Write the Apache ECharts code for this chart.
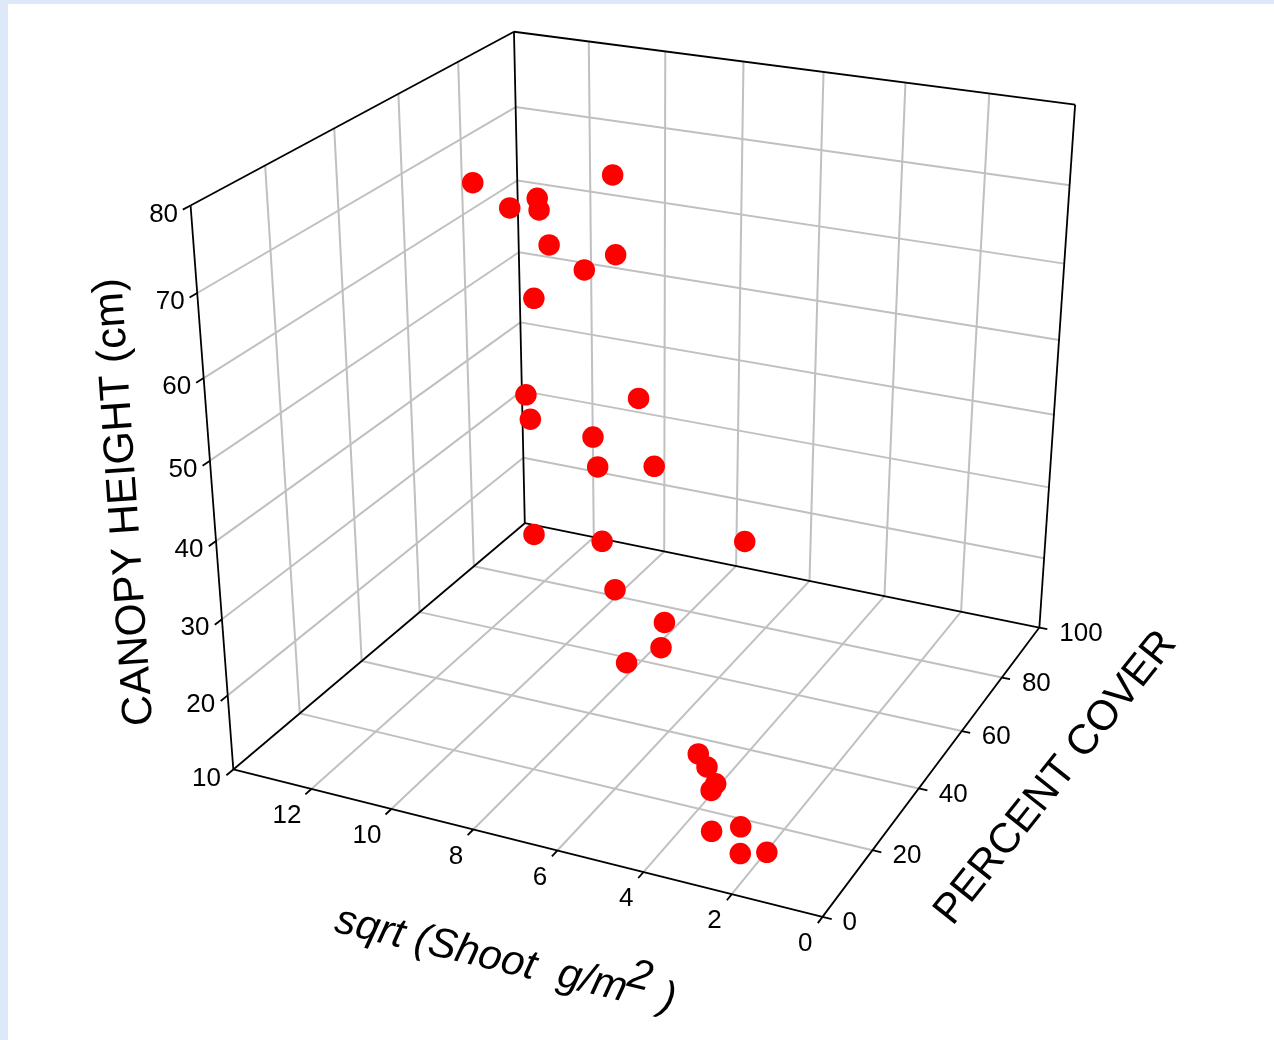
<!DOCTYPE html><html><head><meta charset="utf-8">
<style>html,body{margin:0;padding:0;background:#dde9f9;overflow:hidden}
#sheet{position:absolute;left:8px;top:4px;width:1266px;height:1036px;background:#fff}
#chart{position:absolute;left:0;top:0;width:1274px;height:1040px}</style>
<script src="https://cdn.jsdelivr.net/npm/echarts@6/dist/echarts.min.js"></script></head><body>
<div id="sheet"></div><div id="chart"></div>
<script>
// ----- data -----
var shootSqrt=[11.4,8.0,9.82,9.78,10.5,9.55,7.94,8.7,9.95,10.2,10.1,7.4,8.53,8.42,7.02,8.6,6.95,3.62,6.65,5.47,5.55,6.38,3.4,3.2,3.0,3.1,3.08,2.42,2.42,1.82];
var percentCover=[50,50,50,50,50,50,50,50,50,50,50,50,50,50,50,30,30,30,30,30,30,30,10,10,10,10,10,10,10,10];
var canopyHeight=[73.1,76.6,72.4,71.0,70.7,66.9,67.0,64.5,59.9,47.3,44.2,49.5,43.4,39.6,41.1,36.9,37.8,41.4,31.9,29.0,25.6,22.6,22.0,20.6,18.7,17.7,12.4,13.9,10.4,11.4];
var shootTicks=[0,2,4,6,8,10,12];
var coverTicks=[0,20,40,60,80,100];
var heightTicks=[10,20,30,40,50,60,70,80];
var shootRange=[0,14], coverRange=[0,100], heightRange=[10,80];
var titleHeight='CANOPY HEIGHT (cm)', titleCover='PERCENT COVER', titleShoot='sqrt (Shoot  g/m', titleShootSup='2', titleShootEnd=')';

// ----- perspective projection of the 3D box onto the page -----
var P=[-0.56780,0.42148,-0.06595,0.82251,-0.07692,-0.16579,-0.63644,0.91686,0.09158,0.19688,-0.10115];
function project(x,c,h){
  var u=x/shootRange[1], v=c/coverRange[1], w=(h-heightRange[0])/(heightRange[1]-heightRange[0]);
  var W=P[8]*u+P[9]*v+P[10]*w+1;
  return [1000*(P[0]*u+P[1]*v+P[2]*w+P[3])/W, 1000*(P[4]*u+P[5]*v+P[6]*w+P[7])/W];
}
function seg(a,b){return {coords:[project(a[0],a[1],a[2]),project(b[0],b[1],b[2])]};}
var X=shootRange[1],C=coverRange[1],H0=heightRange[0],H1=heightRange[1];
var gridSegs=[], edgeSegs=[], textItems=[];
shootTicks.forEach(function(x){
  if(x>0){gridSegs.push(seg([x,0,H0],[x,C,H0]));gridSegs.push(seg([x,C,H0],[x,C,H1]));}
  edgeSegs.push(seg([x,0,H0],[x,-1.8,H0]));
  var p=project(x,0,H0);textItems.push({p:p,dx:-10,dy:27,align:'right',t:String(x)});
});
coverTicks.forEach(function(c){
  if(c>0&&c<C){gridSegs.push(seg([0,c,H0],[X,c,H0]));gridSegs.push(seg([X,c,H0],[X,c,H1]));}
  edgeSegs.push(seg([0,c,H0],[-0.2,c,H0]));
  var p=project(0,c,H0);textItems.push({p:p,dx:20,dy:6,align:'left',t:String(c)});
});
heightTicks.forEach(function(h){
  if(h>H0&&h<H1){gridSegs.push(seg([X,0,h],[X,C,h]));gridSegs.push(seg([X,C,h],[0,C,h]));}
  edgeSegs.push(seg([X,0,h],[X,-2,h]));
  var p=project(X,0,h);textItems.push({p:p,dx:-12.5,dy:9,align:'right',t:String(h)});
});
[[[0,0,H0],[X,0,H0]],[[0,0,H0],[0,C,H0]],[[X,0,H0],[X,C,H0]],[[0,C,H0],[X,C,H0]],
 [[X,0,H0],[X,0,H1]],[[X,C,H0],[X,C,H1]],[[0,C,H0],[0,C,H1]],[[X,0,H1],[X,C,H1]],[[X,C,H1],[0,C,H1]]
].forEach(function(e){edgeSegs.push(seg(e[0],e[1]));});

var titles=[
 {p:[125,502],r:94,t:titleHeight,f:'42.5px "Liberation Sans"'},
 {p:[1056,778],r:51.5,t:titleCover,f:'42px "Liberation Sans"'},
 {p:[481,955],r:-13.6,t:titleShoot,f:'italic 42px "Liberation Sans"'},
 {p:[640,977],r:-13.6,t:titleShootSup,f:'italic 42px "Liberation Sans"'},
 {p:[668,999],r:-13.6,t:titleShootEnd,f:'italic 42px "Liberation Sans"'}
];
var points=shootSqrt.map(function(x,i){return project(x,percentCover[i],canopyHeight[i]);});

var chart=echarts.init(document.getElementById('chart'),null,{renderer:'canvas'});
chart.setOption({
  animation:false,backgroundColor:'transparent',
  grid:{left:0,top:0,right:0,bottom:0},
  xAxis:{type:'value',min:0,max:1274,show:false},
  yAxis:{type:'value',min:0,max:1040,inverse:true,show:false},
  series:[
    {type:'lines',coordinateSystem:'cartesian2d',z:1,silent:true,data:gridSegs,lineStyle:{color:'#c0c0c0',width:2,opacity:1}},
    {type:'lines',coordinateSystem:'cartesian2d',z:2,silent:true,data:edgeSegs,lineStyle:{color:'#000',width:1.8,opacity:1}},
    {type:'scatter',z:4,silent:true,data:points,symbol:'circle',symbolSize:21.5,itemStyle:{color:'#ff0000',opacity:1}},
    {type:'custom',z:5,silent:true,data:textItems.map(function(d){return d.p;}),
     renderItem:function(params,api){var d=textItems[params.dataIndex];var c=api.coord(d.p);
       return {type:'text',x:c[0]+d.dx,y:c[1]+d.dy,style:{text:d.t,fill:'#000',font:'26px "Liberation Sans"',align:d.align,verticalAlign:'middle'}};}},
    {type:'custom',z:5,silent:true,data:titles.map(function(d){return d.p;}),
     renderItem:function(params,api){var d=titles[params.dataIndex];var c=api.coord(d.p);
       return {type:'text',x:c[0],y:c[1],rotation:d.r*Math.PI/180,style:{text:d.t,fill:'#000',font:d.f,align:'center',verticalAlign:'middle'}};}}
  ]
});
</script></body></html>
